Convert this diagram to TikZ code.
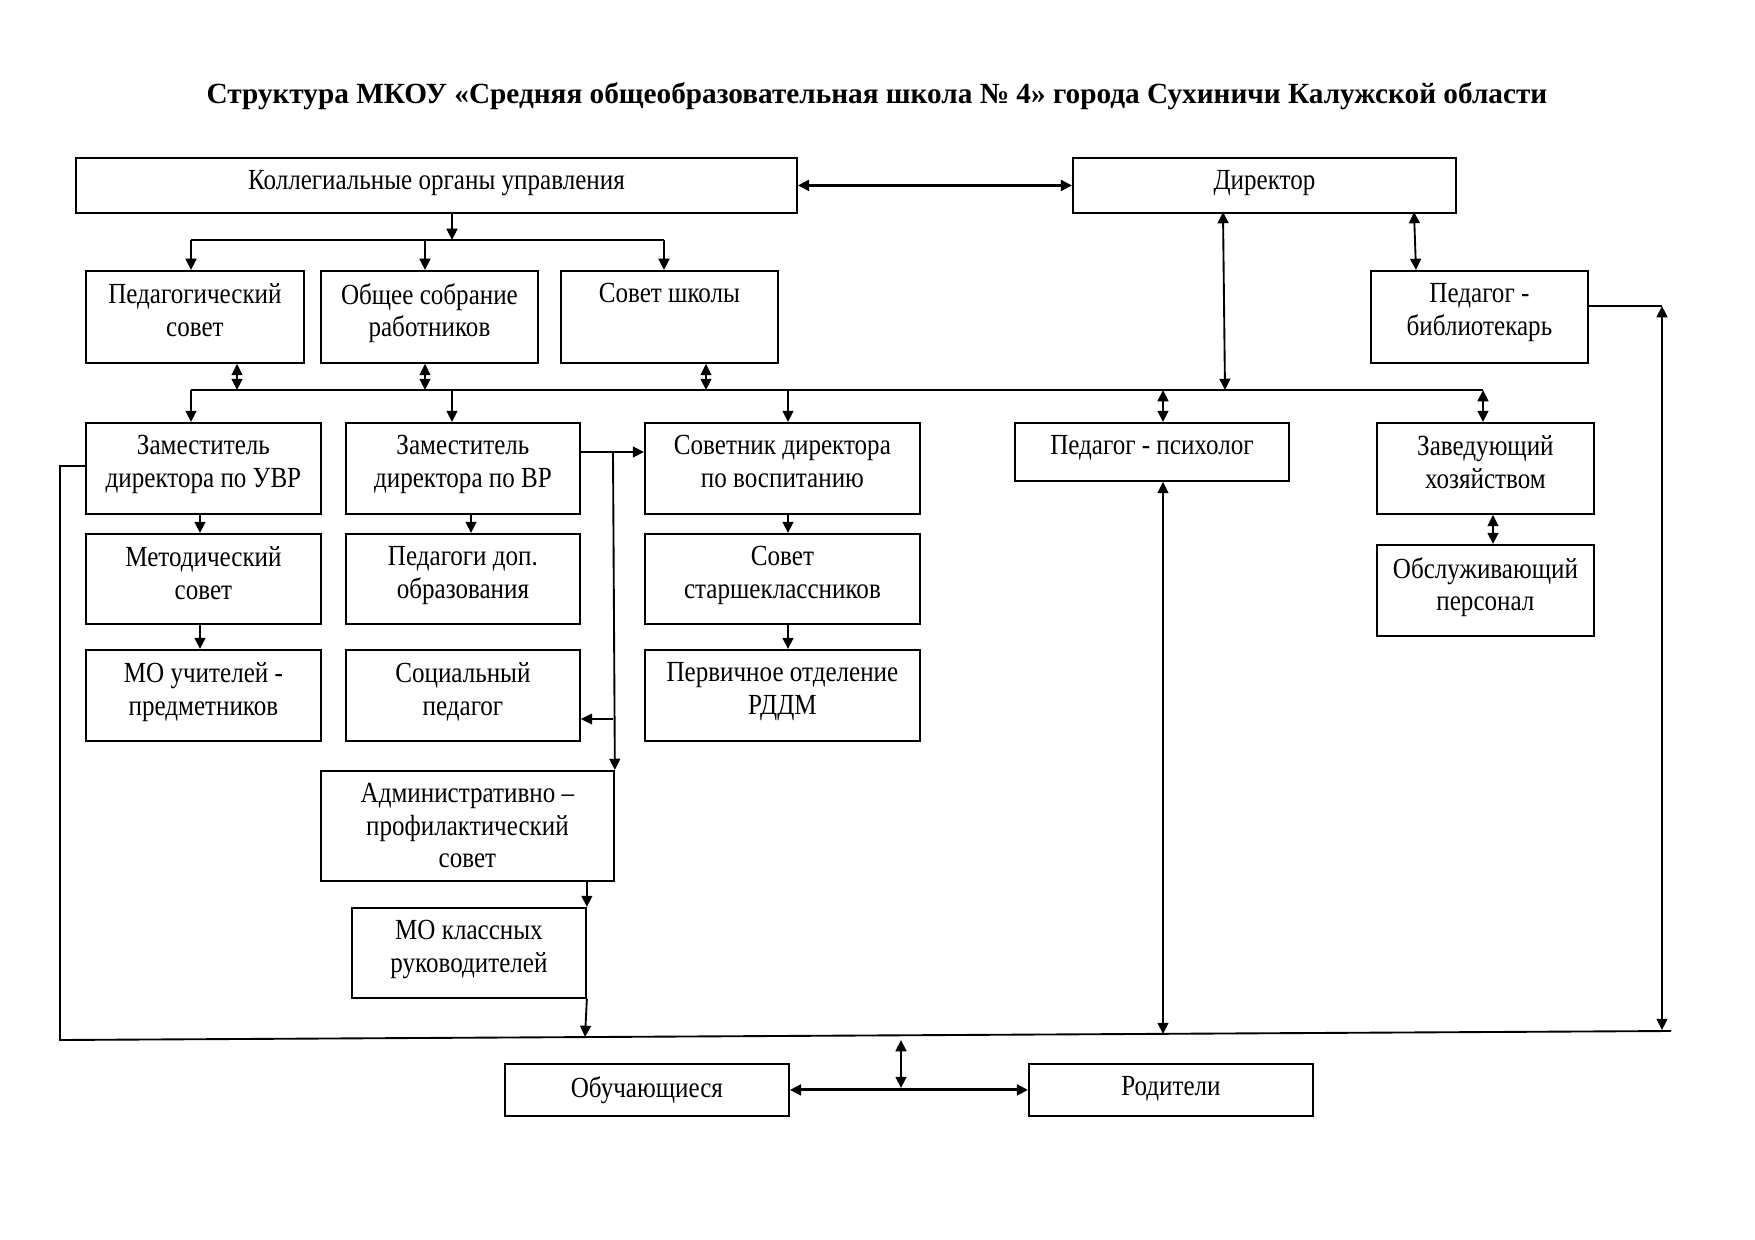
\documentclass[tikz,border=0pt]{standalone}
\usepackage{fontspec}
\setmainfont{Liberation Serif}
\newfontfamily\bodyfont[FakeStretch=0.86]{Liberation Serif}
\usetikzlibrary{arrows.meta}
\newcommand\bx[6]{%
  \node[box, minimum width=#4*0.48pt, minimum height=#5*0.48pt] (#1) at (#2,#3) {};
  \node[txt] (#1-t) at ([yshift=-6.3pt]#1.north) {#6};}
\begin{document}
\begin{tikzpicture}[x=0.48pt,y=-0.48pt,
  box/.style={draw, line width=0.9pt, inner sep=0pt, anchor=north west},
  txt/.style={anchor=north, inner sep=0pt, align=center, font=\bodyfont\fontsize{14}{15.6}\selectfont},
  ln/.style={line width=0.9pt},
  tip/.tip={Triangle[length=5.4pt,width=5.2pt]},
  arr/.style={ln, -tip},
  arrb/.style={ln, tip-tip},
  heavy/.style={line width=1.4pt}]
\useasboundingbox (0,0) rectangle (1755,1240);

\node[font=\fontsize{14.05}{16}\selectfont\bfseries] (title) at (877,96)
  {Структура МКОУ «Средняя общеобразовательная школа № 4» города Сухиничи Калужской области};

\bx{koll}{75}{157}{721}{55}{Коллегиальные органы управления}
\bx{dir}{1072}{157}{383}{55}{Директор}
\bx{ped}{85}{270}{218}{92}{Педагогический\\совет}
\bx{obsh}{320}{270}{217}{92}{Общее собрание\\работников}
\bx{sovsh}{560}{270}{217}{92}{Совет школы}
\bx{bibl}{1370}{270}{217}{92}{Педагог -\\библиотекарь}
\bx{zuvr}{85}{422}{235}{91}{Заместитель\\директора по УВР}
\bx{zvr}{345}{422}{234}{91}{Заместитель\\директора по ВР}
\bx{sovdir}{644}{422}{275}{91}{Советник директора\\по воспитанию}
\bx{psych}{1014}{422}{274}{58}{Педагог - психолог}
\bx{zavhoz}{1376}{422}{217}{91}{Заведующий\\хозяйством}
\bx{metod}{85}{533}{235}{90}{Методический\\совет}
\bx{peddop}{345}{533}{234}{90}{Педагоги доп.\\образования}
\bx{sovst}{644}{533}{275}{90}{Совет\\старшеклассников}
\bx{obsl}{1376}{544}{217}{91}{Обслуживающий\\персонал}
\bx{mo}{85}{649}{235}{91}{МО учителей -\\предметников}
\bx{socped}{345}{649}{234}{91}{Социальный\\педагог}
\bx{rddm}{644}{649}{275}{91}{Первичное отделение\\РДДМ}
\bx{apsov}{320}{770}{293}{110}{Административно –\\профилактический\\совет}
\bx{mokl}{351}{907}{234}{90}{МО классных\\руководителей}
\bx{obuch}{504}{1063}{284}{52}{Обучающиеся}
\bx{rod}{1028}{1063}{284}{52}{Родители}

% coordinates
\coordinate (kb) at (452,240);
\coordinate (kbL) at (191,240);
\coordinate (kbM) at (425,240);
\coordinate (kbR) at (664,240);
\coordinate (busL) at (191,390);
\coordinate (busR) at (1483,390);
\coordinate (b1) at (237,390);
\coordinate (b2) at (425,390);
\coordinate (b3) at (706,390);
\coordinate (b4) at (452,390);
\coordinate (b5) at (788,390);
\coordinate (b6) at (1163,390);
\coordinate (dtop) at (1223,212);
\coordinate (dbus) at (1225,390);
\coordinate (btop) at (1414,212);
\coordinate (bbot) at (1416,270);
\coordinate (rc) at (1662,306);
\coordinate (rb) at (1662,1030);
\coordinate (botL) at (60,1040);
\coordinate (botR) at (1671,1031);
\coordinate (lc) at (60,466);
\coordinate (vr) at (613,452);
\coordinate (vs) at (613,719);
\coordinate (mb) at (585,1037);
\coordinate (pb) at (1163,1034);
\coordinate (ca) at (901,1040);
\coordinate (cb) at (901,1088);

% top level
\draw[arrb,heavy] (koll.east) -- (dir.west);
\draw[arr] (koll.south -| kb) -- (kb);
\draw[ln] (kbL) -- (kbR);
\draw[arr] (kbL) -- (ped.north -| kbL);
\draw[arr] (kbM) -- (obsh.north -| kbM);
\draw[arr] (kbR) -- (sovsh.north -| kbR);

% bus
\draw[ln] (busL) -- (busR);
\draw[arrb] (ped.south -| b1) -- (b1);
\draw[arrb] (obsh.south -| b2) -- (b2);
\draw[arrb] (sovsh.south -| b3) -- (b3);
\draw[arrb] (dtop) -- (dbus);
\draw[arrb] (btop) -- (bbot);
\draw[arr] (busL) -- (zuvr.north -| busL);
\draw[arr] (b4) -- (zvr.north -| b4);
\draw[arr] (b5) -- (sovdir.north -| b5);
\draw[arrb] (b6) -- (psych.north -| b6);
\draw[arrb] (busR) -- (zavhoz.north -| busR);

% columns
\draw[arr] (zuvr.south -| 200,0) -- (metod.north -| 200,0);
\draw[arr] (metod.south -| 200,0) -- (mo.north -| 200,0);
\draw[arr] (zvr.south -| 471,0) -- (peddop.north -| 471,0);
\draw[arr] (sovdir.south -| b5) -- (sovst.north -| b5);
\draw[arr] (sovst.south -| b5) -- (rddm.north -| b5);
\draw[arrb] (zavhoz.south -| 1493,0) -- (obsl.north -| 1493,0);

% ВР branch
\draw[arr] (zvr.east |- vr) -- (sovdir.west |- vr);
\draw[arr] (vr) -- (apsov.north east);
\draw[arr] (vs) -- (socped.east |- vs);
\draw[arr] (apsov.south -| mokl.east) -- (mokl.north east);
\draw[arr] (mokl.south east) -- (mb);

% outer loop
\draw[ln] (zuvr.west |- lc) -- (lc) -- (botL) -- (botR);
\draw[ln] (bibl.east |- rc) -- (rc);
\draw[arrb] (rc) -- (rb);
\draw[arrb] (psych.south -| pb) -- (pb);

% bottom
\draw[arrb,heavy] (obuch.east) -- (rod.west);
\draw[arrb] (ca) -- (cb);
\end{tikzpicture}
\end{document}
